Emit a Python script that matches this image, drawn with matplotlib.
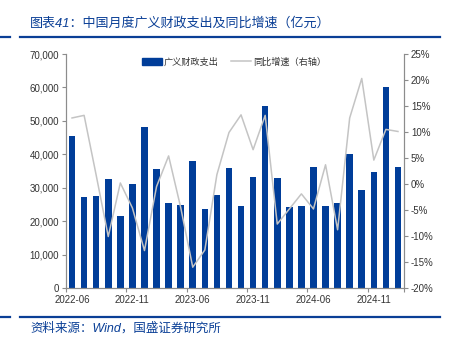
import matplotlib
matplotlib.use("Agg")
import matplotlib.pyplot as plt
from matplotlib.ticker import FuncFormatter, FixedLocator
from matplotlib.lines import Line2D

plt.rcParams['font.family'] = ['Liberation Sans', 'Noto Sans CJK SC', 'DejaVu Sans']

months = (["2022-%02d" % m for m in range(6, 13)] +
          ["2023-%02d" % m for m in range(3, 13)] +
          ["2024-%02d" % m for m in range(3, 13)] +
          ["2025-03"])

spending = [45500, 27200, 27600, 32500, 21600, 31000, 48100, 35600, 25500, 24900,
            38100, 23700, 27900, 35800, 24600, 33100, 54400, 32900, 24100,
            24600, 36100, 24600, 25500, 40200, 29400, 34600, 60100, 36300]

growth = [12.7, 13.2, 1.7, -10.1, 0.2, -4.6, -12.8, -0.5, 5.4, -4.5,
          -16.0, -12.7, 1.8, 9.9, 13.3, 6.6, 13.2, -7.7, -4.8,
          -1.9, -4.8, 3.7, -8.8, 12.7, 20.3, 4.6, 10.5, 10.1]

label_idx = [0, 5, 10, 15, 20, 25]

W, H = 449, 346
fig = plt.figure(figsize=(W / 100, H / 100), dpi=100)

blue = '#0a3f96'
bar_color = '#003d99'
line_color = '#c4c4c4'
axis_gray = '#8c8c8c'
txt = '#333333'
fs = 7.0

ax = fig.add_axes([66 / W, 1 - 288 / H, (404 - 66) / W, (288 - 54) / H])
x = list(range(len(months)))
ax.bar(x, spending, width=0.55, color=bar_color, zorder=2)
ax.set_xlim(-0.5, len(months) - 0.5)
ax.set_ylim(0, 70000)
ax.set_yticks(range(0, 70001, 10000))
ax.yaxis.set_major_formatter(FuncFormatter(lambda v, p: f"{int(v):,}"))
ax.set_xticks(label_idx)
ax.set_xticklabels([months[i] for i in label_idx])
ax.xaxis.set_minor_locator(FixedLocator([i - 0.5 for i in label_idx] + [len(months) - 0.5]))
ax.tick_params(axis='x', which='major', length=0, labelsize=fs, labelcolor=txt, pad=5)
ax.tick_params(axis='x', which='minor', length=3, color=axis_gray, width=0.8)
ax.tick_params(axis='y', length=3, color=axis_gray, width=0.8, labelsize=fs, labelcolor=txt, pad=2)
ax.spines['top'].set_visible(False)
for s in ['left', 'right', 'bottom']:
    ax.spines[s].set_color(axis_gray)
    ax.spines[s].set_linewidth(0.8)

ax2 = ax.twinx()
ax2.plot(x, growth, color=line_color, linewidth=1.1, zorder=3)
ax2.set_ylim(-20, 25)
ax2.set_yticks(range(-20, 26, 5))
ax2.yaxis.set_major_formatter(FuncFormatter(lambda v, p: f"{int(v)}%"))
ax2.tick_params(axis='y', length=3, color=axis_gray, width=0.8, labelsize=fs, labelcolor=txt, pad=2)
ax2.spines['top'].set_visible(False)
for s in ['left', 'right', 'bottom']:
    ax2.spines[s].set_color(axis_gray)
    ax2.spines[s].set_linewidth(0.8)

handles = [plt.Rectangle((0, 0), 1, 1, color=bar_color),
           Line2D([0], [0], color=line_color, linewidth=1.1)]
fig.legend(handles, ['广义财政支出', '同比增速（右轴）'], loc='center', ncol=2,
           bbox_to_anchor=(234 / W, 1 - 62 / H), frameon=False, fontsize=6.6,
           handlelength=2.2, handleheight=0.7, handletextpad=0.2, columnspacing=1.4,
           labelcolor=txt)

fig.text(30 / W, 1 - 23 / H, '图表41：中国月度广义财政支出及同比增速（亿元）',
         color=blue, fontsize=9.4, va='center', ha='left', style='italic')
fig.text(30 / W, 1 - 328 / H, '资料来源：Wind，国盛证券研究所',
         color=blue, fontsize=9, va='center', ha='left', style='italic')

for yy in (37, 317):
    fig.add_artist(Line2D([20 / W, 440 / W], [1 - yy / H] * 2, color=blue, linewidth=1.6))
    fig.add_artist(Line2D([0, 10 / W], [1 - yy / H] * 2, color=blue, linewidth=1.6))

fig.savefig('out.png', dpi=100)
